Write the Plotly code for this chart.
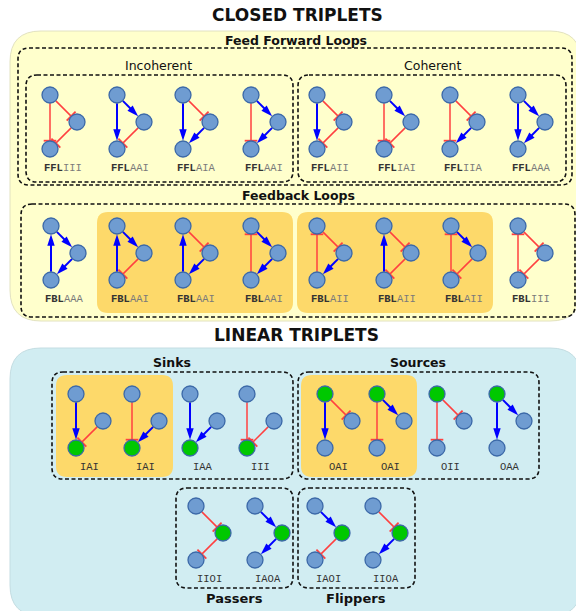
import math
import plotly.graph_objects as go

# ---------------- data ----------------
ffl_names = ["FFLIII", "FFLAAI", "FFLAIA", "FFLAAI", "FFLAII", "FFLIAI", "FFLIIA", "FFLAAA"]
# (top->mid, mid->bottom, top->bottom)
ffl_edges = [("I", "I", "I"), ("A", "I", "A"), ("I", "A", "A"), ("A", "A", "I"),
             ("I", "I", "A"), ("A", "I", "I"), ("I", "A", "I"), ("A", "A", "A")]

fbl_names = ["FBLAAA", "FBLAAI", "FBLAAI", "FBLAAI", "FBLAII", "FBLAII", "FBLAII", "FBLIII"]
# (top->mid, mid->bottom, bottom->top)
fbl_edges = [("A", "A", "A"), ("A", "I", "A"), ("I", "A", "A"), ("A", "A", "I"),
             ("I", "A", "I"), ("I", "I", "A"), ("A", "I", "I"), ("I", "I", "I")]

sink_names = ["IAI", "IAI", "IAA", "III"]
# (top->bottom, mid->bottom)
sink_edges = [("A", "I"), ("I", "A"), ("A", "A"), ("I", "I")]

source_names = ["OAI", "OAI", "OII", "OAA"]
# (top->bottom, top->mid)
source_edges = [("A", "I"), ("I", "A"), ("I", "I"), ("A", "A")]

passer_names = ["IIOI", "IAOA"]
flipper_names = ["IAOI", "IIOA"]
# (top->mid, mid->bottom)
passer_edges = [("I", "I"), ("A", "A")]
flipper_edges = [("A", "I"), ("I", "A")]

# ---------------- layout constants ----------------
W, H = 576, 611
R = 8.3
MID = (27, 27)
BOT = (0, 54)
LBL = (13, 73)

ffl_x = [50, 117, 183, 251, 317, 384, 450, 518]
ffl_y = 95
fbl_x = [51, 117, 183, 251, 317, 384, 451, 518]
fbl_y = 226
sink_x = [76, 132, 190, 247]
source_x = [325, 377, 437, 497]
lin_y = 394
passer_x = [196, 255]
flipper_x = [315, 373]
pf_y = 506

BLUE = "#0000FF"
RED = "#FF4040"
NODE = "#6F9CD1"
NODE_LINE = "#3C69A8"
GREEN = "#00C800"
YELLOW_BG = "#FFFFCC"
ORANGE = "#FDD96A"
CYAN_BG = "#D1EDF2"

shapes = []
annotations = []


def rr_path(x0, y0, x1, y1, r):
    return (f"M{x0+r},{y0} L{x1-r},{y0} Q{x1},{y0} {x1},{y0+r} "
            f"L{x1},{y1-r} Q{x1},{y1} {x1-r},{y1} L{x0+r},{y1} "
            f"Q{x0},{y1} {x0},{y1-r} L{x0},{y0+r} Q{x0},{y0} {x0+r},{y0} Z")


def panel(x0, y0, x1, y1, r, fill, line="rgba(0,0,0,0)", dash=None, lw=1.0):
    d = dict(type="path", path=rr_path(x0, y0, x1, y1, r), xref="x", yref="y",
             fillcolor=fill, line=dict(color=line, width=lw), layer="below")
    if dash:
        d["line"]["dash"] = dash
    shapes.append(d)


def dashed(x0, y0, x1, y1, r=11):
    panel(x0, y0, x1, y1, r, "rgba(0,0,0,0)", line="#111111", dash="4px,2.5px", lw=1.6)


def text(x, y, s, size, bold=False, family="DejaVu Sans", color="#111111"):
    annotations.append(dict(x=x, y=y, xref="x", yref="y", showarrow=False,
                            text=f"<b>{s}</b>" if bold else s,
                            font=dict(size=size, family=family, color=color),
                            xanchor="center", yanchor="middle"))


# big panels
panel(10, 31, 581, 321, 31, YELLOW_BG, line="#E2E2C0", lw=1)
panel(10, 348, 581, 616, 31, CYAN_BG, line="#C4DDE2", lw=1)
# orange highlights
panel(97, 212, 293, 313, 11, ORANGE)
panel(297, 212, 493, 313, 11, ORANGE)
panel(56, 375, 173, 477, 11, ORANGE)
panel(301, 375, 417, 477, 11, ORANGE)
# dashed group boxes
dashed(18, 48, 572, 185)
dashed(26, 75, 293, 182)
dashed(298, 75, 566, 182)
dashed(21, 204, 575, 317)
dashed(52, 372, 293, 479)
dashed(298, 372, 539, 479)
dashed(176, 488, 293, 588)
dashed(298, 488, 415, 588)

# headings
text(297, 15, "CLOSED TRIPLETS", 17, bold=True)
text(296, 40, "Feed Forward Loops", 12.5, bold=True)
text(158, 65, "Incoherent", 12.5)
text(432, 65, "Coherent", 12.5)
text(298, 195, "Feedback Loops", 12.5, bold=True)
text(296, 335, "LINEAR TRIPLETS", 17, bold=True)
text(172, 362, "Sinks", 12.5, bold=True)
text(418, 362, "Sources", 12.5, bold=True)
text(234, 598, "Passers", 13, bold=True)
text(356, 598, "Flippers", 13, bold=True)

# ---------------- edges and nodes ----------------
lines = {"A": ([], []), "I": ([], [])}
arrow_pts = ([], [], [])
bar_pts = ([], [], [])
nodes = ([], [])
green_nodes = ([], [])


def edge(p, q, kind):
    dx, dy = q[0] - p[0], q[1] - p[1]
    L = math.hypot(dx, dy)
    ux, uy = dx / L, dy / L
    sx, sy = p[0] + R * ux, p[1] + R * uy
    tx, ty = q[0] - R * ux, q[1] - R * uy
    ang = math.degrees(math.atan2(ux, -uy))
    if kind == "A":
        ex, ey = tx - 7 * ux, ty - 7 * uy
        arrow_pts[0].append(tx); arrow_pts[1].append(ty); arrow_pts[2].append(ang)
    else:
        ex, ey = tx, ty
        bar_pts[0].append(tx); bar_pts[1].append(ty); bar_pts[2].append(ang)
    xs, ys = lines[kind]
    xs += [sx, ex, None]
    ys += [sy, ey, None]


def motif_nodes(x, y, green=None):
    pts = {"t": (x, y), "m": (x + MID[0], y + MID[1]), "b": (x + BOT[0], y + BOT[1])}
    for k, p in pts.items():
        tgt = green_nodes if k == green else nodes
        tgt[0].append(p[0]); tgt[1].append(p[1])
    return pts


def mono_label(x, y, name, prefix_len):
    if prefix_len:
        s = f"<b>{name[:prefix_len]}</b><span style='color:#7a7a7a'>{name[prefix_len:]}</span>"
    else:
        s = name
    annotations.append(dict(x=x + LBL[0], y=y + LBL[1], xref="x", yref="y", showarrow=False,
                            text=s, font=dict(size=10.5, family="Liberation Mono", color="#333333"),
                            xanchor="center", yanchor="middle"))


for x, name, (tm, mb, tb) in zip(ffl_x, ffl_names, ffl_edges):
    p = motif_nodes(x, ffl_y)
    edge(p["t"], p["m"], tm); edge(p["m"], p["b"], mb); edge(p["t"], p["b"], tb)
    mono_label(x, ffl_y, name, 3)

for x, name, (tm, mb, bt) in zip(fbl_x, fbl_names, fbl_edges):
    p = motif_nodes(x, fbl_y)
    edge(p["t"], p["m"], tm); edge(p["m"], p["b"], mb); edge(p["b"], p["t"], bt)
    mono_label(x, fbl_y, name, 3)

for x, name, (tb, mb) in zip(sink_x, sink_names, sink_edges):
    p = motif_nodes(x, lin_y, green="b")
    edge(p["t"], p["b"], tb); edge(p["m"], p["b"], mb)
    mono_label(x, lin_y, name, 0)

for x, name, (tb, tm) in zip(source_x, source_names, source_edges):
    p = motif_nodes(x, lin_y, green="t")
    edge(p["t"], p["b"], tb); edge(p["t"], p["m"], tm)
    mono_label(x, lin_y, name, 0)

for xs_, names_, edges_ in ((passer_x, passer_names, passer_edges),
                            (flipper_x, flipper_names, flipper_edges)):
    for x, name, (tm, mb) in zip(xs_, names_, edges_):
        p = motif_nodes(x, pf_y, green="m")
        edge(p["t"], p["m"], tm); edge(p["m"], p["b"], mb)
        mono_label(x, pf_y, name, 0)

fig = go.Figure()
fig.add_trace(go.Scatter(x=lines["I"][0], y=lines["I"][1], mode="lines",
                         line=dict(color=RED, width=1.5), hoverinfo="skip"))
fig.add_trace(go.Scatter(x=lines["A"][0], y=lines["A"][1], mode="lines",
                         line=dict(color=BLUE, width=2), hoverinfo="skip"))
fig.add_trace(go.Scatter(x=bar_pts[0], y=bar_pts[1], mode="markers",
                         marker=dict(symbol="line-ew", size=9, angle=bar_pts[2],
                                     line=dict(color=RED, width=1.8), color=RED),
                         hoverinfo="skip"))
fig.add_trace(go.Scatter(x=arrow_pts[0], y=arrow_pts[1], mode="markers",
                         marker=dict(symbol="arrow", size=12, angle=arrow_pts[2],
                                     color=BLUE, line=dict(width=0)),
                         hoverinfo="skip"))
fig.add_trace(go.Scatter(x=nodes[0], y=nodes[1], mode="markers",
                         marker=dict(size=16, color=NODE, line=dict(color=NODE_LINE, width=1.3)),
                         hoverinfo="skip"))
fig.add_trace(go.Scatter(x=green_nodes[0], y=green_nodes[1], mode="markers",
                         marker=dict(size=16, color=GREEN, line=dict(color=NODE_LINE, width=1.3)),
                         hoverinfo="skip"))

fig.update_layout(
    width=W, height=H, autosize=False,
    margin=dict(l=0, r=0, t=0, b=0),
    paper_bgcolor="white", plot_bgcolor="white",
    showlegend=False, hovermode=False,
    xaxis=dict(range=[0, W], visible=False, fixedrange=True),
    yaxis=dict(range=[H, 0], visible=False, fixedrange=True),
    shapes=shapes, annotations=annotations,
)
fig.write_html("out.html", config={"displayModeBar": False},
               post_script="document.body.style.margin='0';document.body.style.overflow='hidden';")
